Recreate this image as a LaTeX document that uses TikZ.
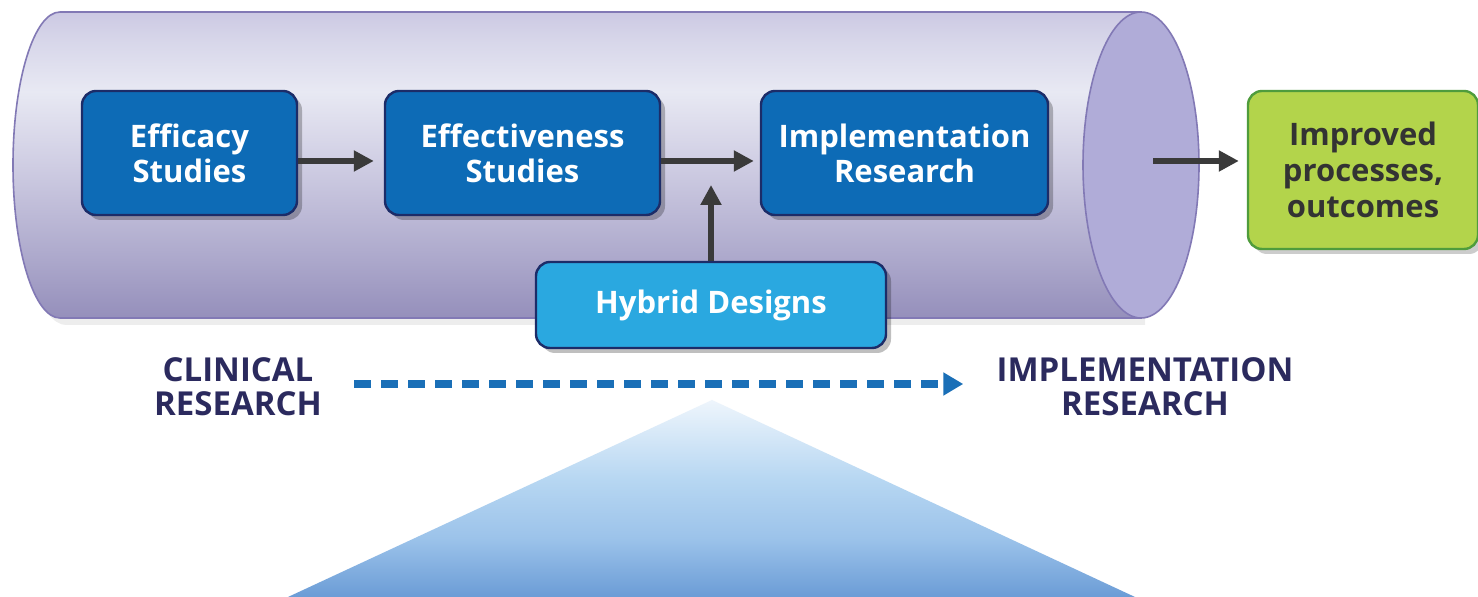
\documentclass[tikz,border=0pt]{standalone}
\usepackage{fontspec}
\setmainfont{Open Sans}
\usetikzlibrary{arrows.meta,shadows}
\definecolor{boxblue}{HTML}{0D6BB6}
\definecolor{boxedge}{HTML}{1C2C68}
\definecolor{hybblue}{HTML}{2AA8E0}
\definecolor{greenfill}{HTML}{B3D44B}
\definecolor{greenedge}{HTML}{4F9C3C}
\definecolor{darktext}{HTML}{333333}
\definecolor{arrowgray}{HTML}{3A3A3A}
\definecolor{navytext}{HTML}{2B2A5E}
\definecolor{dashblue}{HTML}{1A6FB7}
\definecolor{cylline}{HTML}{8279B5}
\definecolor{cylface}{HTML}{B0ACD8}
\definecolor{cylA}{HTML}{958FBB}
\definecolor{cylB}{HTML}{ADA9CC}
\definecolor{cylC}{HTML}{CFCDE3}
\definecolor{cylD}{HTML}{E8E9F3}
\definecolor{cylE}{HTML}{D8D7EA}
\definecolor{cylF}{HTML}{CCC9E3}
\definecolor{triA}{HTML}{6B9CD6}
\definecolor{triB}{HTML}{9CC3EA}
\definecolor{triC}{HTML}{B7D7F2}
\definecolor{triD}{HTML}{EEF5FC}
\pgfdeclareverticalshading{cylshade}{100bp}{color(0bp)=(cylA); color(25bp)=(cylA); color(35bp)=(cylB); color(50bp)=(cylC); color(62bp)=(cylD); color(70bp)=(cylE); color(75bp)=(cylF); color(100bp)=(cylF)}
\pgfdeclareverticalshading{trishade}{100bp}{color(0bp)=(triA); color(25bp)=(triA); color(40bp)=(triB); color(55bp)=(triC); color(75bp)=(triD); color(100bp)=(triD)}
\begin{document}
\begin{tikzpicture}[x=0.5pt,y=-0.5pt,
  stagebox/.style={draw=boxedge, line width=1.2pt, fill=boxblue, rounded corners=7pt,
    text=white, font=\bfseries\fontsize{15.5}{17.5}\selectfont, align=center,
    minimum height=62pt, inner sep=0pt,
    drop shadow={shadow xshift=2.5pt, shadow yshift=-2.5pt, opacity=0.25, fill=black}},
  hybbox/.style={stagebox, fill=hybblue},
  outbox/.style={draw=greenedge, line width=1.2pt, fill=greenfill, rounded corners=7pt,
    text=darktext, font=\bfseries\fontsize{15.5}{18}\selectfont, align=center,
    minimum width=115pt, minimum height=79pt, inner sep=0pt,
    drop shadow={shadow xshift=2.5pt, shadow yshift=-2.5pt, opacity=0.2, fill=black}},
  flow/.style={draw=arrowgray, line width=3pt, -{Triangle[length=10pt,width=10pt]}},
  dasharrow/.style={draw=dashblue, line width=4pt, dash pattern=on 8.5pt off 5pt,
    -{Triangle[length=10pt,width=11pt]}},
  sidelabel/.style={text=navytext, font=\bfseries\fontsize{16.5}{17}\selectfont, align=center, inner sep=0pt}
]
\useasboundingbox (0,0) rectangle (1478,597);
\fill[white] (0,0) rectangle (1478,597);

% cylinder
\fill[black, opacity=0.07] (66,325) arc[start angle=270,end angle=90,x radius=23.5pt,y radius=76.5pt] -- (1145,19) -- (1145,325) -- cycle;
\draw[draw=cylline, line width=0.8pt, shading=cylshade] (60,318) arc[start angle=270,end angle=90,x radius=23.5pt,y radius=76.5pt] -- (1141,12) -- (1141,318) -- cycle;
\draw[draw=cylline, line width=0.8pt, fill=cylface] (1141,165) ellipse [x radius=29pt, y radius=76.5pt];
\coordinate (cylout) at (1153,161);

% triangle
\shade[shading=trishade] (712,400) -- (1135,597) -- (288,597) -- cycle;

% boxes
\node[stagebox, minimum width=107.5pt] (efficacy) at (189.5,153) {Efficacy\\Studies};
\node[stagebox, minimum width=137.5pt] (effect) at (522.5,153) {Effectiveness\\Studies};
\node[stagebox, minimum width=143.5pt] (impl) at (904.5,153) {Implementation\\Research};
\node[hybbox, minimum width=175pt, minimum height=43pt] (hybrid) at (711,305) {Hybrid Designs};
\node[outbox] (improved) at (1363,170) {Improved\\processes,\\outcomes};
\coordinate (hybtip) at (711,185);

% arrows
\draw[flow, shorten >=5pt] ([yshift=-4pt]efficacy.east) -- ([yshift=-4pt]effect.west);
\draw[flow, shorten >=3pt] ([yshift=-4pt]effect.east) -- ([yshift=-4pt]impl.west);
\draw[flow] (hybrid.north) -- (hybtip);
\draw[flow, shorten >=4pt] (cylout) -- (cylout -| improved.west);

% bottom labels
\node[sidelabel] (clin) at (238,387) {CLINICAL\\RESEARCH};
\node[sidelabel] (implres) at (1145,387) {IMPLEMENTATION\\RESEARCH};
\draw[dasharrow] ([xshift=16pt,yshift=1.5pt]clin.east) -- ([xshift=-16.5pt,yshift=1.5pt]implres.west);
\end{tikzpicture}
\end{document}
